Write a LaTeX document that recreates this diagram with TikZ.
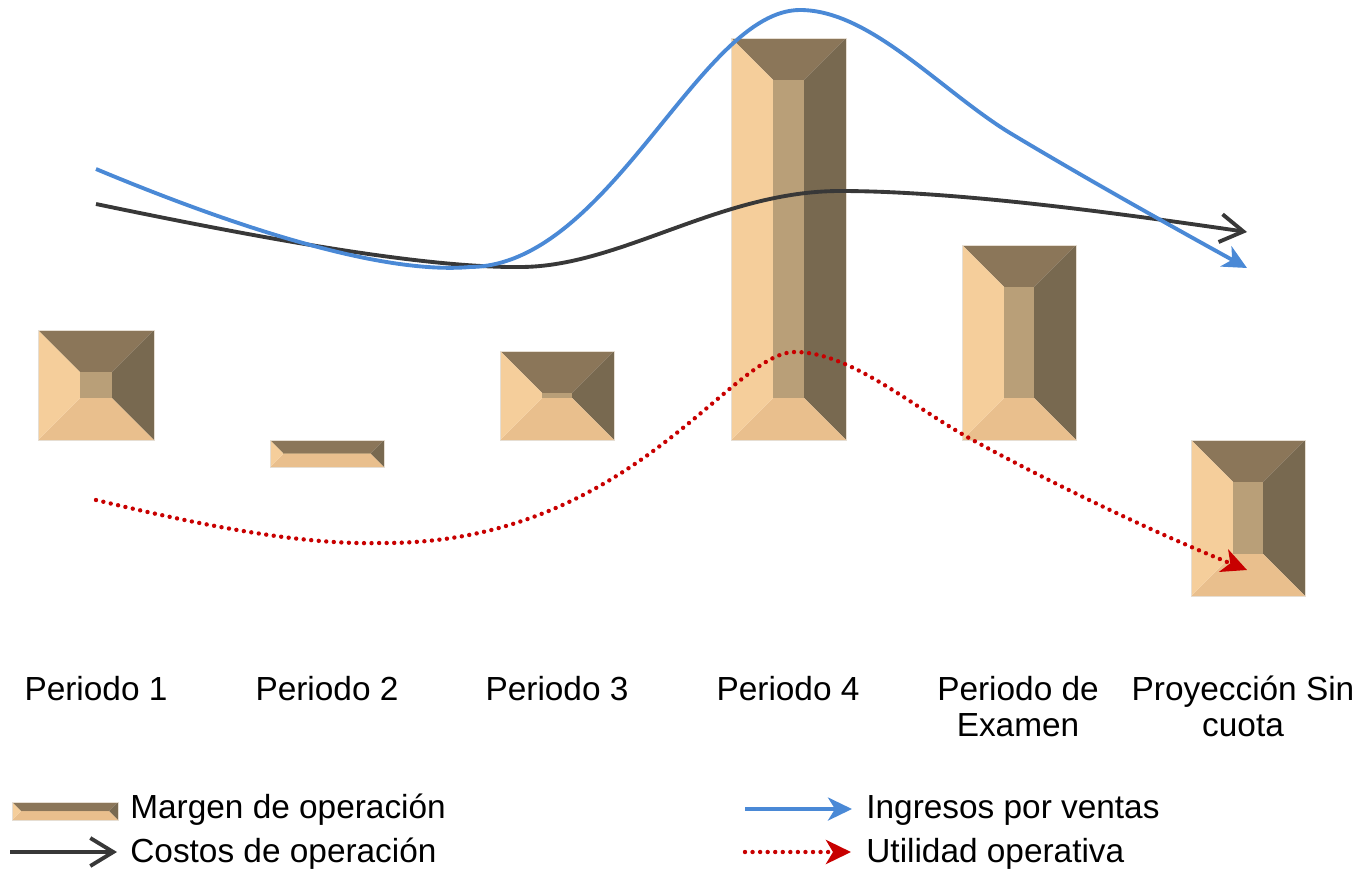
\documentclass[tikz,border=0pt]{standalone}
\usepackage{fontspec}
\setmainfont{Liberation Sans}
\usetikzlibrary{arrows.meta}
\usetikzlibrary{calc}

\definecolor{bvtop}{HTML}{8B7659}
\definecolor{bvright}{HTML}{786950}
\definecolor{bvleft}{HTML}{F5CE9B}
\definecolor{bvbottom}{HTML}{E9BF8D}
\definecolor{bvcenter}{HTML}{B99F78}
\definecolor{bvedge}{HTML}{E6DED3}
\definecolor{ingblue}{HTML}{4A89D6}
\definecolor{costgray}{HTML}{383838}
\definecolor{utilred}{HTML}{C80000}

\begin{document}
\begin{tikzpicture}[x=0.02cm, y=-0.02cm,
		ingresos/.style={ingblue, line width=2.2pt, -{Stealth[length=4.8mm,width=4.6mm,inset=1.4mm]}},
		costos/.style={costgray, line width=2.2pt, -{Straight Barb[length=4.6mm,width=5.6mm]}},
		utilidad/.style={utilred, line width=2.5pt, line cap=round, dash pattern=on 0pt off 4.3pt, -{Stealth[length=5mm,width=4.8mm,inset=1.4mm]}},
		periodo/.style={anchor=north, inner sep=0pt, align=center, font=\fontsize{19}{20.5}\selectfont},
		leyenda/.style={anchor=base west, inner sep=0pt, font=\fontsize{19}{20.5}\selectfont}]
		\useasboundingbox (0,0) rectangle (1364,869);

		% Bevel boxes (left/top/right/bottom/bevel), the last one is the legend
		\foreach \xa/\ya/\xb/\yb/\bv in {38/330/154/440/42, 270/440/384/467/13, 500/351/614/440/42,
				731/38/846/440/42, 962/245/1076/440/42, 1191/440/1305/596/42, 12/802/118/820/9}{
			\fill[bvtop] (\xa,\ya) -- (\xb,\ya) -- (\xb-\bv,\ya+\bv) -- (\xa+\bv,\ya+\bv) -- cycle;
			\fill[bvright] (\xb,\ya) -- (\xb,\yb) -- (\xb-\bv,\yb-\bv) -- (\xb-\bv,\ya+\bv) -- cycle;
			\fill[bvbottom] (\xa,\yb) -- (\xb,\yb) -- (\xb-\bv,\yb-\bv) -- (\xa+\bv,\yb-\bv) -- cycle;
			\fill[bvleft] (\xa,\ya) -- (\xa,\yb) -- (\xa+\bv,\yb-\bv) -- (\xa+\bv,\ya+\bv) -- cycle;
			\fill[bvcenter] (\xa+\bv,\ya+\bv) rectangle (\xb-\bv,\yb-\bv);
			\draw[bvedge, line width=0.4pt] (\xa,\ya) rectangle (\xb,\yb);
		}

		% Define the end points of the curves
		\coordinate (ingS) at (96,169);
		\coordinate (ingE) at (1247,268);
		\coordinate (cosS) at (96,204);
		\coordinate (cosE) at (1247,232);
		\coordinate (utiS) at (96,500);
		\coordinate (utiE) at (1247,570);

		% Draw the curves
		\draw[costos] (cosS) .. controls (250,236) and (420,268) .. (520,267)
			.. controls (620,267) and (720,191) .. (840,191)
			.. controls (960,191) and (1130,215) .. (cosE);
		\draw[ingresos] (ingS) .. controls (230,225) and (380,275) .. (470,267)
			.. controls (610,266) and (700,10) .. (800,10)
			.. controls (870,10) and (940,90) .. (1010,133)
			.. controls (1080,175) and (1160,220) .. (ingE);
		\draw[utilidad] (utiS) .. controls (200,525) and (300,545) .. (380,543)
			.. controls (630,545) and (730,352) .. (795,352)
			.. controls (850,352) and (910,405) .. (969,438)
			.. controls (1060,488) and (1160,535) .. (utiE);

		% Period labels
		\node[periodo] (p1) at (96,676) {Periodo 1};
		\node[periodo] (p2) at (327,676) {Periodo 2};
		\node[periodo] (p3) at (557,676) {Periodo 3};
		\node[periodo] (p4) at (788,676) {Periodo 4};
		\node[periodo] (p5) at (1018,676) {Periodo de\\Examen};
		\node[periodo] (p6) at (1243,676) {Proyección Sin\\cuota};

		% Legend
		\coordinate (lcS) at (10,852);
		\coordinate (lcE) at (117,852);
		\coordinate (liS) at (745,809);
		\coordinate (liE) at (852,809);
		\coordinate (luS) at (745,852);
		\coordinate (luE) at (851,852);
		\draw[costos] (lcS) -- (lcE);
		\draw[ingresos] (liS) -- (liE);
		\draw[utilidad] (luS) -- (luE);
		\node[leyenda] (lgmargen) at (130,818) {Margen de operación};
		\node[leyenda] (lgcostos) at (130,862) {Costos de operación};
		\node[leyenda] (lgingresos) at (866,818) {Ingresos por ventas};
		\node[leyenda] (lgutilidad) at (866,862) {Utilidad operativa};
\end{tikzpicture}
\end{document}
